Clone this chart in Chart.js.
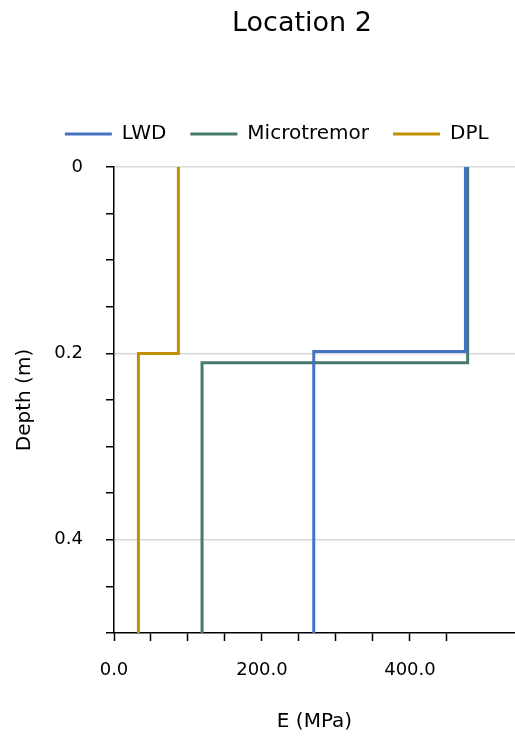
<!DOCTYPE html>
<html>
<head>
<meta charset="utf-8">
<script src="https://cdn.jsdelivr.net/npm/chart.js@4"></script>
<style>
  body { margin: 0; background: #fff; overflow: hidden; }
</style>
</head>
<body>
<canvas id="depthChart" width="515" height="736"></canvas>
<script>
const seriesNames = ['LWD', 'Microtremor', 'DPL'];
const seriesColors = ['#4472C4', '#467A6E', '#BF9000'];

// E (MPa) against depth (m), stepped profiles
const lwdE = [475, 475, 270, 270];
const lwdDepth = [0, 0.198, 0.198, 0.5];
const microE = [478, 478, 119, 119];
const microDepth = [0, 0.21, 0.21, 0.5];
const dplE = [87, 87, 33, 33];
const dplDepth = [0, 0.2, 0.2, 0.5];

const xTickLabels = [0, 200, 400];
const yTickLabels = [0, 0.2, 0.4];

const FONT = 'DejaVu Sans';

function points(xs, ys) {
  return xs.map((x, i) => ({ x: x, y: ys[i] }));
}

function isYLabel(v) {
  return yTickLabels.some(t => Math.abs(t - v) < 1e-6);
}

// chart title sits a bit right of centre in the original, draw it by hand
const mainTitle = {
  id: 'mainTitle',
  afterDraw(chart) {
    const c = chart.ctx;
    c.save();
    c.font = '27px "' + FONT + '"';
    c.fillStyle = '#000';
    c.textAlign = 'center';
    c.textBaseline = 'middle';
    c.fillText('Location 2', 302, 24);
    c.restore();
  }
};

const ctx = document.getElementById('depthChart');

new Chart(ctx, {
  type: 'scatter',
  data: {
    datasets: [
      { label: seriesNames[0], data: points(lwdE, lwdDepth) },
      { label: seriesNames[1], data: points(microE, microDepth) },
      { label: seriesNames[2], data: points(dplE, dplDepth) }
    ].map((d, i) => Object.assign(d, {
      showLine: true,
      borderColor: seriesColors[i],
      backgroundColor: seriesColors[i],
      borderWidth: 3,
      pointRadius: 0,
      pointHoverRadius: 0,
      tension: 0,
      borderJoinStyle: 'miter'
    }))
  },
  options: {
    responsive: false,
    animation: false,
    layout: { autoPadding: false, padding: { left: 38.5, top: 100, right: 0, bottom: 0 } },
    plugins: {
      tooltip: { enabled: false },
      legend: {
        position: 'top',
        labels: {
          usePointStyle: true,
          pointStyle: 'line',
          pointStyleWidth: 47,
          padding: 24,
          color: '#000',
          font: { family: FONT, size: 20 }
        }
      },
      subtitle: {
        display: true,
        text: '',
        weight: 500,
        padding: { top: 1, bottom: 0 },
        font: { size: 10 }
      }
    },
    scales: {
      x: {
        type: 'linear',
        min: 0,
        max: 542, // axis runs on past the right edge of the picture
        ticks: {
          stepSize: 50,
          autoSkip: false,
          maxRotation: 0,
          padding: 19,
          color: '#000',
          font: { family: FONT, size: 18 },
          callback: v => xTickLabels.includes(v) ? v.toFixed(1) : ''
        },
        afterBuildTicks: s => { s.ticks = s.ticks.filter(t => t.value % 50 === 0); },
        afterFit: s => { s.height = 103; s.paddingRight = 0; },
        grid: {
          drawOnChartArea: false,
          tickLength: 8,
          tickWidth: 1.5,
          tickColor: '#000'
        },
        border: { color: '#000', width: 1.5 },
        title: {
          display: true,
          text: 'E (MPa)',
          color: '#000',
          padding: { top: 0, bottom: 2 },
          font: { family: FONT, size: 20 }
        }
      },
      y: {
        type: 'linear',
        reverse: true,
        min: 0,
        max: 0.5,
        ticks: {
          stepSize: 0.05,
          autoSkip: false,
          padding: 23,
          color: '#000',
          font: { family: FONT, size: 18 },
          callback: v => isYLabel(v) ? String(Math.round(v * 10) / 10) : ''
        },
        afterFit: s => { s.width = 75.5; },
        grid: {
          color: c => (c.tick && isYLabel(c.tick.value)) ? '#d9d9d9' : 'rgba(0,0,0,0)',
          lineWidth: 1.5,
          tickLength: 8,
          tickWidth: 1.5,
          tickColor: '#000'
        },
        border: { color: '#000', width: 1.5 },
        title: {
          display: true,
          text: 'Depth (m)',
          color: '#000',
          padding: { top: -25.5, bottom: 0 },
          font: { family: FONT, size: 20 }
        }
      }
    }
  },
  plugins: [mainTitle]
});
</script>
</body>
</html>
